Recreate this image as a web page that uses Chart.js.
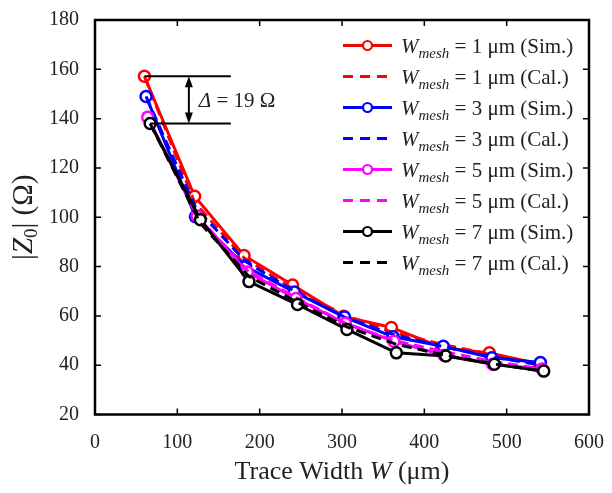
<!DOCTYPE html>
<html>
<head>
<meta charset="utf-8">
<script src="https://cdn.jsdelivr.net/npm/chart.js@4.4.0/dist/chart.umd.min.js"></script>
<style>
html, body { margin: 0; padding: 0; background: #fff; }
#wrap { width: 612px; height: 493px; }
</style>
</head>
<body>
<div id="wrap"><canvas id="impedanceChart" width="612" height="493"></canvas></div>
<script>
// mesh widths (um) of the four cases
const meshWidths = [1, 3, 5, 7];

// trace width W (um) of each sample, per mesh width
const widthMesh1 = [60, 121, 181, 240, 302, 360, 421, 479, 540];
const widthMesh3 = [62, 122, 183, 242, 303, 362, 423, 482, 541];
const widthMesh5 = [64, 124, 185, 244, 304, 363, 424, 483, 543];
const widthMesh7 = [67, 128, 187, 246, 306, 366, 426, 485, 545];

// |Z0| (ohm), simulated
const simMesh1 = [157.2, 108.5, 84.5, 72.5, 59.8, 55.3, 47.2, 45.0, 40.5];
const simMesh3 = [149.0, 100.2, 80.0, 69.7, 59.5, 51.5, 47.7, 43.0, 41.1];
const simMesh5 = [140.6, 100.5, 77.8, 67.0, 57.0, 49.7, 44.0, 40.4, 38.5];
const simMesh7 = [138.0, 99.0, 73.9, 64.6, 54.5, 45.0, 43.7, 40.4, 37.6];

// |Z0| (ohm), calculated
const calMesh1 = [157.2, 106.0, 83.5, 71.0, 60.5, 53.5, 48.5, 44.5, 40.5];
const calMesh3 = [149.0, 104.0, 82.0, 70.0, 59.5, 52.5, 47.5, 43.5, 40.0];
const calMesh5 = [140.6, 100.5, 78.5, 67.5, 57.0, 50.0, 45.5, 41.5, 38.5];
const calMesh7 = [138.0, 97.5, 76.0, 65.5, 55.5, 48.5, 44.0, 40.5, 37.5];

const xTicks = [0, 100, 200, 300, 400, 500, 600];
const yTicks = [20, 40, 60, 80, 100, 120, 140, 160, 180];

// delta annotation
const deltaText = ' = 19 Ω';
const deltaArrowX = 114;
const deltaLineEnd = 165;

const colors = ['#ff0000', '#0000ff', '#ff00ff', '#000000'];
const serif = "'Liberation Serif', 'Times New Roman', serif";

const widths = [widthMesh1, widthMesh3, widthMesh5, widthMesh7];
const sims = [simMesh1, simMesh3, simMesh5, simMesh7];
const cals = [calMesh1, calMesh3, calMesh5, calMesh7];

function makeSet(label, xs, ys, color, dashed, order) {
    return {
        label: label,
        data: xs.map((x, i) => ({ x: x, y: ys[i] })),
        borderColor: color,
        backgroundColor: color,
        borderWidth: 3,
        borderDash: dashed ? [10, 6] : [],
        pointRadius: dashed ? 0 : 5.5,
        pointBorderWidth: 2.5,
        pointBackgroundColor: '#fff',
        pointBorderColor: color,
        tension: 0,
        fill: false,
        order: order,
        dashed: dashed
    };
}

const datasets = [];
meshWidths.forEach((m, i) => {
    datasets.push(makeSet(' = ' + m + ' μm (Sim.)', widths[i], sims[i], colors[i], false, 20 - i * 2));
    datasets.push(makeSet(' = ' + m + ' μm (Cal.)', widths[i], cals[i], colors[i], true, 19 - i * 2));
});

function drawRich(ctx, parts, x, y, align) {
    let total = 0;
    parts.forEach(p => {
        ctx.font = (p.italic ? 'italic ' : '') + p.size + 'px ' + serif;
        p.w = ctx.measureText(p.t).width;
        total += p.w;
    });
    let cx = align === 'center' ? x - total / 2 : x;
    ctx.textAlign = 'left';
    ctx.textBaseline = 'alphabetic';
    parts.forEach(p => {
        ctx.font = (p.italic ? 'italic ' : '') + p.size + 'px ' + serif;
        ctx.fillText(p.t, cx, y + (p.dy || 0));
        cx += p.w;
    });
}

const decorPlugin = {
    id: 'decor',
    afterDatasetsDraw(chart) {
        const ctx = chart.ctx;
        const area = chart.chartArea;
        const xs = chart.scales.x;
        const ys = chart.scales.y;
        ctx.save();
        ctx.strokeStyle = '#000';
        ctx.fillStyle = '#000';

        // frame
        ctx.lineWidth = 2.5;
        ctx.strokeRect(area.left, area.top, area.right - area.left, area.bottom - area.top);

        // inward ticks
        ctx.lineWidth = 1.5;
        ctx.beginPath();
        xTicks.forEach(v => {
            const p = xs.getPixelForValue(v);
            ctx.moveTo(p, area.bottom); ctx.lineTo(p, area.bottom - 6);
            ctx.moveTo(p, area.top); ctx.lineTo(p, area.top + 6);
        });
        yTicks.forEach(v => {
            const p = ys.getPixelForValue(v);
            ctx.moveTo(area.left, p); ctx.lineTo(area.left + 6, p);
            ctx.moveTo(area.right, p); ctx.lineTo(area.right - 6, p);
        });
        ctx.stroke();

        // delta annotation
        const yTop = ys.getPixelForValue(simMesh1[0]);
        const yBot = ys.getPixelForValue(simMesh7[0]);
        const xEnd = xs.getPixelForValue(deltaLineEnd);
        const xArrow = xs.getPixelForValue(deltaArrowX);
        ctx.lineWidth = 2;
        ctx.beginPath();
        ctx.moveTo(xs.getPixelForValue(widthMesh1[0]), yTop); ctx.lineTo(xEnd, yTop);
        ctx.moveTo(xs.getPixelForValue(widthMesh7[0]), yBot); ctx.lineTo(xEnd, yBot);
        ctx.moveTo(xArrow, yTop + 8); ctx.lineTo(xArrow, yBot - 8);
        ctx.stroke();
        ctx.beginPath();
        ctx.moveTo(xArrow, yTop); ctx.lineTo(xArrow - 4, yTop + 11); ctx.lineTo(xArrow + 4, yTop + 11); ctx.closePath();
        ctx.moveTo(xArrow, yBot); ctx.lineTo(xArrow - 4, yBot - 11); ctx.lineTo(xArrow + 4, yBot - 11); ctx.closePath();
        ctx.fill();
        ctx.fillStyle = '#222';
        drawRich(ctx, [
            { t: 'Δ', italic: true, size: 21 },
            { t: deltaText, size: 21 }
        ], xArrow + 10, (yTop + yBot) / 2 + 7, 'left');

        // legend
        const lx0 = 343, lx1 = 392, tx = 401, row0 = 45.5, step = 31;
        datasets.forEach((ds, i) => {
            const ry = row0 + i * step;
            ctx.strokeStyle = ds.borderColor;
            ctx.lineWidth = 3;
            ctx.setLineDash(ds.dashed ? [10, 7] : []);
            ctx.beginPath();
            ctx.moveTo(lx0, ry); ctx.lineTo(lx1, ry);
            ctx.stroke();
            ctx.setLineDash([]);
            if (!ds.dashed) {
                ctx.lineWidth = 2.2;
                ctx.fillStyle = '#fff';
                ctx.beginPath();
                ctx.arc((lx0 + lx1) / 2, ry, 4.5, 0, Math.PI * 2);
                ctx.fill();
                ctx.stroke();
            }
            ctx.fillStyle = '#222';
            drawRich(ctx, [
                { t: 'W', italic: true, size: 21 },
                { t: 'mesh', italic: true, size: 15, dy: 5 },
                { t: ds.label, size: 21 }
            ], tx, ry + 7, 'left');
        });

        ctx.restore();
    },
    afterDraw(chart) {
        const ctx = chart.ctx;
        const area = chart.chartArea;
        ctx.save();
        ctx.fillStyle = '#222';
        drawRich(ctx, [
            { t: 'Trace Width ', size: 26 },
            { t: 'W', italic: true, size: 26 },
            { t: ' (μm)', size: 26 }
        ], (area.left + area.right) / 2, 479, 'center');

        ctx.translate(22, (area.top + area.bottom) / 2);
        ctx.rotate(-Math.PI / 2);
        drawRich(ctx, [
            { t: '|', size: 29 },
            { t: 'Z', italic: true, size: 29 },
            { t: '0', size: 19, dy: 5 },
            { t: '| (Ω)', size: 29 }
        ], 0, 10, 'center');
        ctx.restore();
    }
};

const context = document.getElementById('impedanceChart').getContext('2d');
new Chart(context, {
    type: 'line',
    data: { datasets: datasets },
    plugins: [decorPlugin],
    options: {
        responsive: false,
        animation: false,
        layout: {
            autoPadding: false,
            padding: { left: 0, top: 13.5, right: 16, bottom: 0 }
        },
        plugins: {
            legend: { display: false },
            tooltip: { enabled: false }
        },
        scales: {
            x: {
                type: 'linear',
                min: 0,
                max: 600,
                grid: { display: false },
                border: { display: false },
                ticks: {
                    stepSize: 100,
                    padding: 8,
                    color: '#222',
                    font: { family: serif, size: 20 },
                    maxRotation: 0
                },
                afterFit(scale) { scale.height = 78.5; }
            },
            y: {
                type: 'linear',
                min: 20,
                max: 180,
                grid: { display: false },
                border: { display: false },
                ticks: {
                    stepSize: 20,
                    padding: 8,
                    color: '#222',
                    font: { family: serif, size: 20 }
                },
                afterFit(scale) { scale.width = 95; }
            }
        }
    }
});
</script>
</body>
</html>
